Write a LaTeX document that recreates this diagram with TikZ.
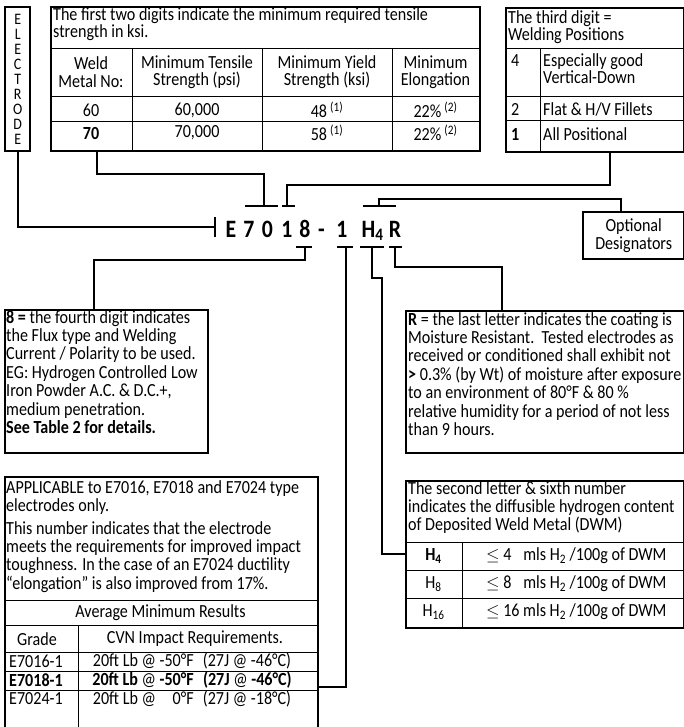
\documentclass[tikz,border=0pt]{standalone}
\usepackage{fontspec}
\setmainfont{Carlito}[FakeStretch=0.87]

\begin{document}
\begin{tikzpicture}[
    x=1pt, y=-1pt,
    box/.style={draw, line width=2.4pt, inner sep=0pt},
    cellrule/.style={line width=1pt},
    link/.style={line width=2.4pt},
    note/.style={inner sep=0pt, align=left, anchor=north west, font=\fontsize{18.5}{18.4}\selectfont},
    cell/.style={inner sep=0pt, align=center, font=\fontsize{18.5}{17.5}\selectfont},
    code/.style={inner sep=0pt, anchor=base, font=\fontsize{25}{25}\selectfont\bfseries}
]
\useasboundingbox (0,0) rectangle (684,727);

% electrode
\node[box, anchor=north west, minimum width=25pt, minimum height=144pt, align=center,
      font=\fontsize{16}{15}\selectfont] (electrode) at (4,6) {E\\L\\E\\C\\T\\R\\O\\D\\E};

% tensile strength table
\node[box, anchor=north west, minimum width=429pt, minimum height=144pt] (tensile) at (50,6) {};
\foreach \y in {49,97,122} \draw[cellrule] (50,\y) -- (479,\y);
\foreach \x in {132,262,392} \draw[cellrule] (\x,49) -- (\x,150);
\node[note, font=\fontsize{18.5}{17.5}\selectfont] (tenhead) at (53,7) {The first two digits indicate the minimum required tensile\\strength in ksi.};
\node[cell] (hweld) at (91,72) {Weld\\Metal No:};
\node[cell] (hts) at (197,72) {Minimum Tensile\\Strength (psi)};
\node[cell] (hys) at (327,72) {Minimum Yield\\Strength (ksi)};
\node[cell] (hel) at (435.5,72) {Minimum\\Elongation};
\node[cell] (w60) at (91,110) {60};
\node[cell] (ts60) at (197,110) {60,000};
\node[cell] (ys60) at (327,110) {48\,\textsuperscript{(1)}};
\node[cell] (el60) at (435.5,110) {22\%\,\textsuperscript{(2)}};
\node[cell] (w70) at (91,133) {\textbf{70}};
\node[cell] (ts70) at (197,133) {70,000};
\node[cell] (ys70) at (327,133) {58\,\textsuperscript{(1)}};
\node[cell] (el70) at (435.5,133) {22\%\,\textsuperscript{(2)}};

% third digit
\node[box, anchor=north west, minimum width=178pt, minimum height=144pt] (pos) at (505,7) {};
\foreach \y in {49,97,121} \draw[cellrule] (505,\y) -- (683,\y);
\draw[cellrule] (540,49) -- (540,151);
\node[note, font=\fontsize{18.5}{17.5}\selectfont] (poshead) at (508,10) {The third digit =\\Welding Positions};
\node[cell, anchor=west] (p4) at (511,61) {4};
\node[note, font=\fontsize{18.5}{17.5}\selectfont] (p4txt) at (543,53) {Especially good\\Vertical-Down};
\node[cell, anchor=west] (p2) at (511,109) {2};
\node[cell, anchor=west] (p2txt) at (543,109) {Flat \& H/V Fillets};
\node[cell, anchor=west] (p1) at (511,134) {\textbf{1}};
\node[cell, anchor=west] (p1txt) at (543,134) {All Positional};

% optional designators
\node[box, anchor=north west, minimum width=101pt, minimum height=47pt, align=center,
      font=\fontsize{18.5}{18}\selectfont] (opt) at (582,211) {Optional\\Designators};

% the code
\foreach \ch/\x/\nm in {E/231/cE, 7/249/c7, 0/267.5/c0, 1/287/c1, 8/305/c8, -/321.5/cdash, 1/342/cone, R/395/cR}
  \node[code, name=\nm] at (\x,237) {\ch};
\node[code] (cH) at (372.5,237) {H\textsubscript{4}};

% fourth digit
\node[box, anchor=north west, minimum width=203pt, minimum height=143pt] (flux) at (4,309) {};
\node[note] (fluxtxt) at (6,310) {\textbf{8 =} the fourth digit indicates\\the Flux type and Welding\\Current / Polarity to be used.\\EG: Hydrogen Controlled Low\\Iron Powder A.C. \& D.C.+,\\medium penetration.\\\textbf{See Table 2 for details.}};

% last letter
\node[box, anchor=north west, minimum width=278pt, minimum height=142pt] (moist) at (405,310) {};
\node[note] (moisttxt) at (408,312) {\textbf{R} = the last letter indicates the coating is\\Moisture Resistant.\ \ Tested electrodes as\\received or conditioned shall exhibit not\\\textbf{>} 0.3\% (by Wt) of moisture after exposure\\to an environment of 80°F \& 80 \%\\relative humidity for a period of not less\\than 9 hours.};

% hydrogen table
\node[box, anchor=north west, minimum width=278pt, minimum height=147pt] (hyd) at (405,480) {};
\foreach \y in {542,570,598} \draw[cellrule] (405,\y) -- (683,\y);
\draw[cellrule] (462,542) -- (462,627);
\node[note] (hydhead) at (408,481) {The second letter \& sixth number\\indicates the diffusible hydrogen content\\of Deposited Weld Metal (DWM)};
\node[cell] (h4) at (433.5,556) {\textbf{H\textsubscript{4}}};
\node[cell, anchor=west] (h4txt) at (486,556) {$\le$ \makebox[20pt][l]{4}mls H\textsubscript{2} /100g of DWM};
\node[cell] (h8) at (433.5,584) {H\textsubscript{8}};
\node[cell, anchor=west] (h8txt) at (486,584) {$\le$ \makebox[20pt][l]{8}mls H\textsubscript{2} /100g of DWM};
\node[cell] (h16) at (433.5,612) {H\textsubscript{16}};
\node[cell, anchor=west] (h16txt) at (486,612) {$\le$ 16 mls H\textsubscript{2} /100g of DWM};

% impact table
\node[box, anchor=north west, minimum width=313pt, minimum height=262pt] (impact) at (4,476) {};
\foreach \y in {600,625,652,671,690} \draw[cellrule] (4,\y) -- (317,\y);
\draw[cellrule] (78,625) -- (78,738);
\node[note] (apptxt) at (6,480) {APPLICABLE to E7016, E7018 and E7024 type\\electrodes only.};
\node[note] (imptxt) at (6,521) {This number indicates that the electrode\\meets the requirements for improved impact\\toughness. In the case of an E7024 ductility\\“elongation” is also improved from 17\%.};
\node[cell] (avg) at (160.5,613) {Average Minimum Results};
\node[cell] (grade) at (37,639) {Grade};
\node[cell] (cvn) at (195,639) {CVN Impact Requirements.};
\node[cell] (g16) at (36,661) {E7016-1};
\node[cell] (r16) at (192,661) {20ft Lb @ -50°F\enspace(27J @ -46°C)};
\node[cell] (g18) at (36,680) {\textbf{E7018-1}};
\node[cell] (r18) at (192,680) {\textbf{20ft Lb} @ \textbf{-50°F\enspace(27J} @ \textbf{-46°C)}};
\node[cell] (g24) at (36,699) {E7024-1};
\node[cell] (r24) at (192,699) {20ft Lb @ \phantom{-5}0°F\enspace(27J @ -18°C)};

% bars over and under the code
\coordinate (lead) at (215,227);
\coordinate (s70) at (264,206);
\coordinate (spos) at (287,206);
\coordinate (sopt) at (379,206);
\coordinate (s8) at (305,247);
\coordinate (sone) at (346,247);
\coordinate (sH) at (372,247);
\coordinate (sR) at (395,247);
\coordinate (onefoot) at (317,687);
\coordinate (hfoot) at (382,554);
\foreach \s/\l/\r in {s70/19/14, spos/5/8, sopt/16/17, s8/9/7, sone/9/7, sH/12/12, sR/6/7}
  \draw[link] ([xshift=-\l pt]\s) -- ([xshift=\r pt]\s);

% connectors
\draw[link] (electrode.south) |- (lead);
\draw[link] ([yshift=10pt]lead) -- ([yshift=-10pt]lead);
\draw[link] (s70) -- ++(0,-32) -| ([xshift=47pt]tensile.south west);
\draw[link] (spos) -- ++(0,-21) -| ([xshift=105pt]pos.south west);
\draw[link] (sopt) -- ++(0,-7) -| ([xshift=39pt]opt.north west);
\draw[link] (s8) -- ++(0,13) -| ([xshift=90pt]flux.north west);
\draw[link] (sone) |- (onefoot);
\draw[link] (sH) -- ++(0,31) -| (hfoot) -- (hfoot -| hyd.west);
\draw[link] (sR) -- ++(0,20) -| ([xshift=97pt]moist.north west);
\end{tikzpicture}
\end{document}
